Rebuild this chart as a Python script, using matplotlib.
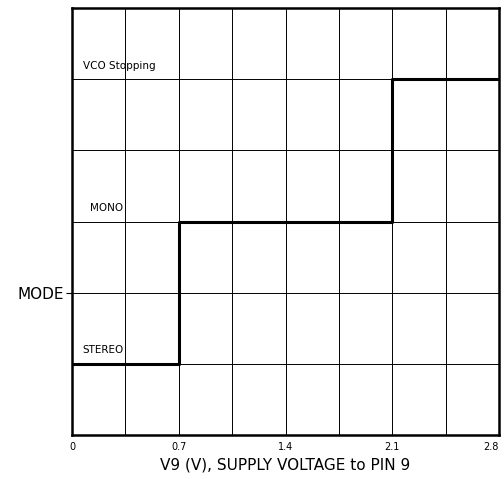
import numpy as np
import matplotlib.pyplot as plt

# dados do gráfico
v9 = [0.0, 0.7, 2.1, 2.8]          # limites de tensão (V)
mode_level = [1, 3, 5]             # nível de cada modo
mode_names = ['STEREO', 'MONO', 'VCO Stopping']
xticks = [0, 0.7, 1.4, 2.1, 2.8]
xtick_labels = ['0', '0.7', '1.4', '2.1', '2.8']

fig = plt.figure(figsize=(5.04, 4.79), dpi=100)
ax = fig.add_axes([0.143, 0.092, 0.847, 0.891])

ax.set_xlim(0, 2.8)
ax.set_ylim(0, 6)

# grade
for gx in np.arange(0.35, 2.8, 0.35):
    ax.axvline(gx, color='black', lw=0.7, zorder=1)
for gy in range(1, 6):
    ax.axhline(gy, color='black', lw=0.7, zorder=1)

# curva em degraus
xs = v9
ys = mode_level + [mode_level[-1]]
ax.step(xs, ys, where='post', color='black', lw=2.2, zorder=3)

# rótulos dos modos
ax.text(0.07, mode_level[0] + 0.12, mode_names[0], fontsize=7.5, va='bottom')
ax.text(0.12, mode_level[1] + 0.12, mode_names[1], fontsize=7.5, va='bottom')
ax.text(0.07, mode_level[2] + 0.12, mode_names[2], fontsize=7.5, va='bottom')

for s in ax.spines.values():
    s.set_linewidth(1.8)

ax.set_xticks(xticks)
ax.set_xticklabels(xtick_labels, fontsize=7)
ax.tick_params(axis='x', length=0, pad=5)
ax.get_xticklabels()[-1].set_horizontalalignment('right')
ax.set_yticks([2])
ax.set_yticklabels(['MODE'], fontsize=11)
ax.tick_params(axis='y', length=4, width=0.8, pad=2)
ax.set_xlabel('V9 (V), SUPPLY VOLTAGE to PIN 9', fontsize=11, labelpad=4)

fig.savefig('out.png', dpi=100)
